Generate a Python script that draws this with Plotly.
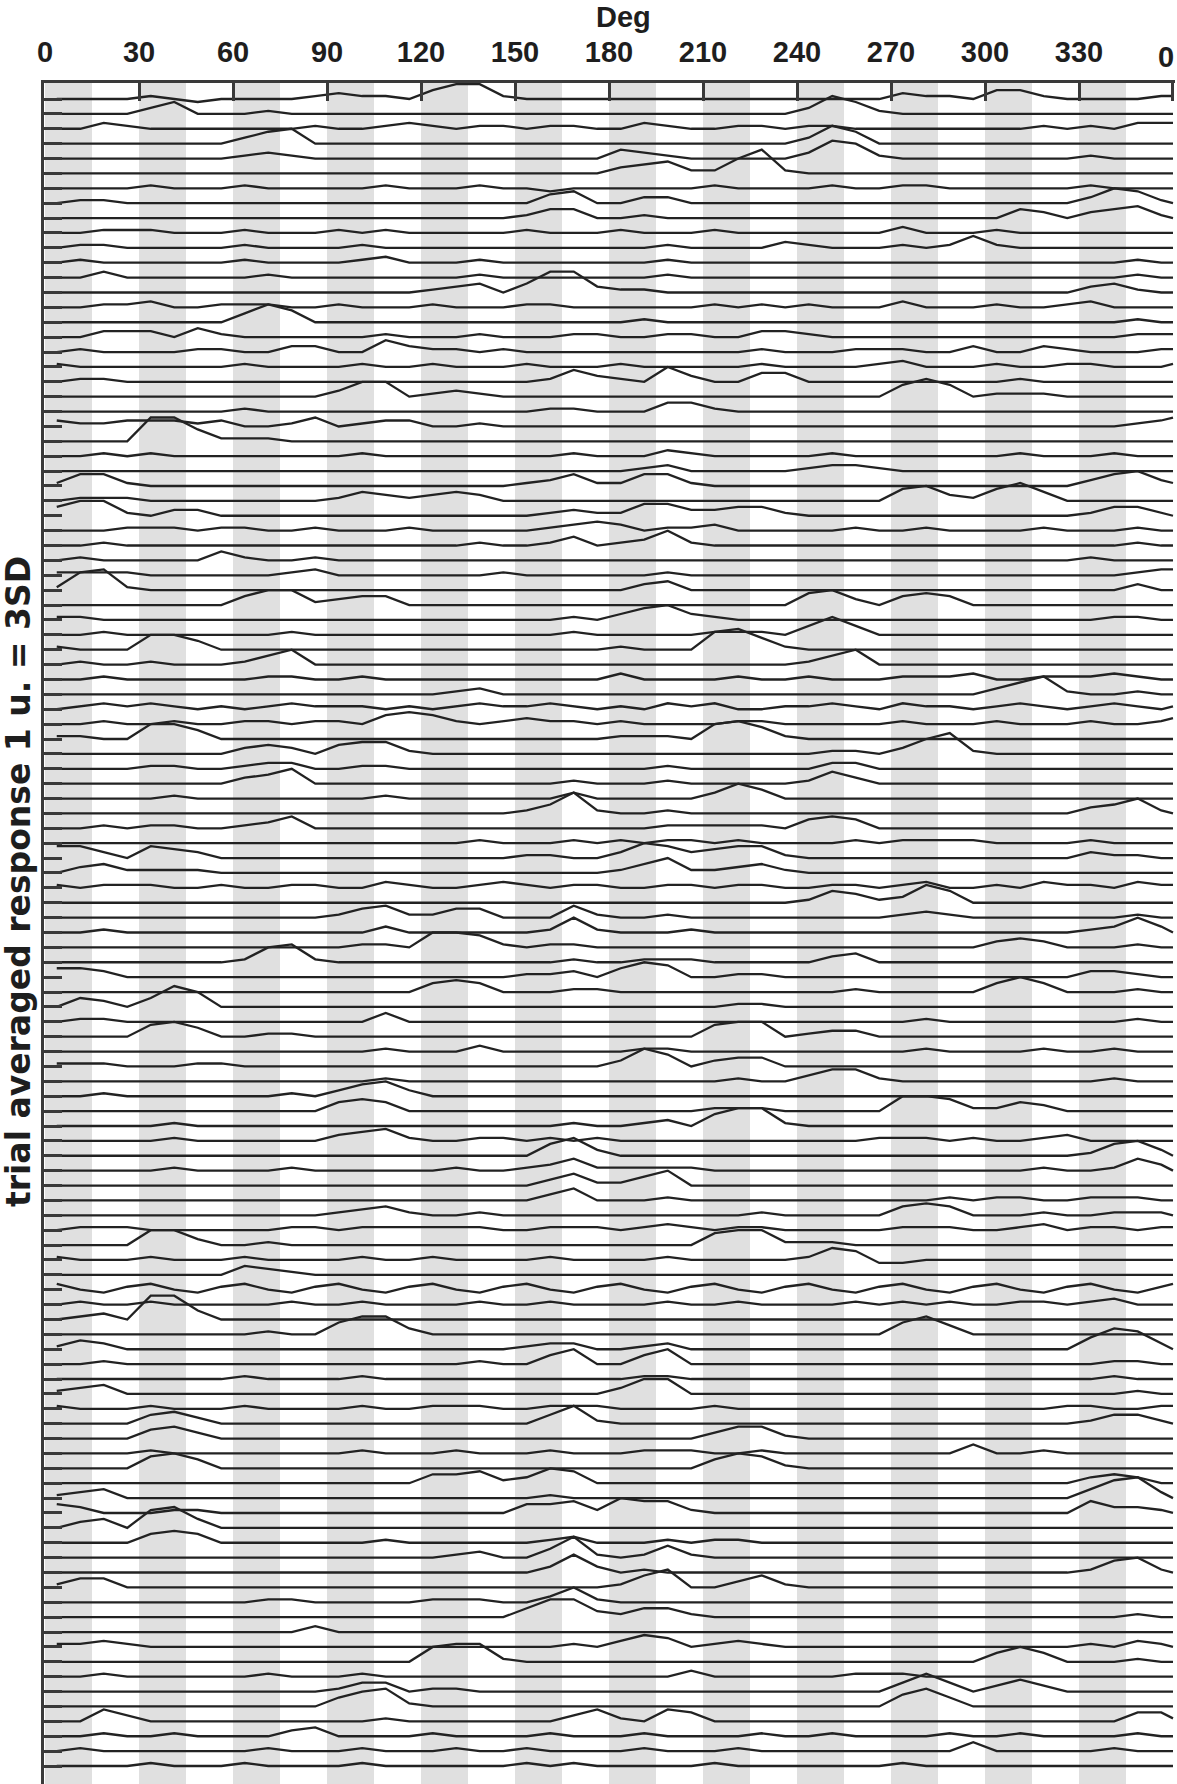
import plotly.graph_objects as go

# ---------------- data ----------------
# sampling positions (degrees) of each trace
deg = [3.75 + 7.5 * j for j in range(48)] + [360.0]

# x tick values / labels
tick_vals = [0, 30, 60, 90, 120, 150, 180, 210, 240, 270, 300, 330, 360]
tick_text = ["0", "30", "60", "90", "120", "150", "180", "210", "240", "270", "300", "330", "0"]

# stimulus-on bands (start, end) in degrees
band_starts = [0, 30, 60, 90, 120, 150, 180, 210, 240, 270, 300, 330]
band_width = 15

# each trace: 49 response levels (base-36 digit, '2' = trace baseline, 1 step = 0.2 u.)
rows = [
    "2222 3212 2223 4332 5773 2222 2222 2222 2222 4332 5532 2223 3",  # 0
    "2222 4622 2322 2222 2222 2222 2222 2222 4863 2222 2222 2222 2",  # 1
    "2243 2222 2223 2234 3233 2332 2432 2332 3322 2222 2232 3244 4",  # 2
    "2222 2222 4672 2222 2222 2222 2222 2222 4862 2222 2222 2222 2",  # 3
    "2222 2222 3432 2222 2222 2222 5432 2222 4873 2222 2222 3222 2",  # 4
    "2222 2222 2222 2222 2222 2222 4563 37a3 2222 2222 2222 2222 2",  # 5
    "2222 3222 3222 2232 2232 2122 2222 3222 2322 3322 2222 3222 2",  # 6
    "2332 2222 2222 2222 2222 2562 2442 2222 2222 2222 2222 4763 2",  # 7
    "2222 2222 2222 2222 2222 3552 2322 2222 2222 2222 2542 4563 2",  # 8
    "2233 3222 3222 3232 2222 3222 3222 3222 2222 4222 3222 2222 2",  # 9
    "2332 2222 3222 2322 2222 2222 2232 2224 3222 3236 3222 2222 2",  # 10
    "2322 2222 3222 2342 2232 2222 2232 2222 2222 2222 2222 2232 2",  # 11
    "2242 2222 2322 2222 2232 2222 2232 2222 2222 2222 2222 2232 2",  # 12
    "2222 2222 2222 2222 3452 5994 3322 2222 2222 2222 2222 4532 2",  # 13
    "2233 4223 3322 3222 3222 3322 2222 3232 3222 4222 3223 4222 2",  # 14
    "2222 2222 5862 2222 2222 2222 2322 2222 2222 2222 2222 2232 2",  # 15
    "2244 4253 2222 2232 2232 2233 2233 2244 3222 2222 2222 2233 3",  # 16
    "2322 2233 2244 2264 3323 2222 2222 2232 2233 3224 2243 2223 3",  # 17
    "3222 2222 3222 2322 3222 3222 3222 2232 2223 4222 3223 3222 3",  # 18
    "2332 2222 2222 2222 2222 2364 3274 2255 2222 2222 2322 2222 2",  # 19
    "2222 2222 2222 4772 3432 2222 2222 2222 2222 6862 3332 2222 2",  # 20
    "2222 2222 3222 2222 2222 2332 2255 3222 2222 2222 2222 2222 2",  # 21
    "4334 4434 2235 2344 2232 2222 2222 2222 2222 2222 2222 2234 5",  # 22
    "2222 aa63 3322 2222 2222 2222 2222 2222 2222 2222 2222 2222 2",  # 23
    "2232 3222 2222 2322 2222 2232 2243 2222 2322 2222 2322 2322 2",  # 24
    "2222 2222 2222 2222 2222 2222 2342 2222 3443 2222 2222 2222 2",  # 25
    "3663 2222 2222 2222 2222 3463 3663 2222 2222 2222 2222 4674 3",  # 26
    "2333 2222 2222 3543 4542 2222 2222 2222 2222 6743 6852 2222 2",  # 27
    "5773 2442 2222 2222 2222 2343 3664 4553 2222 2222 2222 3553 2",  # 28
    "2223 3323 3223 2223 2222 2345 4233 4222 2232 2322 2232 2232 2",  # 29
    "2232 2222 2222 2222 2232 2352 3473 2222 2222 2222 2222 2232 2",  # 30
    "2322 2225 3223 2222 2222 2222 2222 2222 2222 2222 2222 3222 2",  # 31
    "3333 2222 2234 2222 2223 2222 2232 2222 2222 2222 2222 2234 4",  # 32
    "3893 2222 2222 2222 2222 2222 2452 2222 2222 2222 2222 2242 2",  # 33
    "2222 2222 5773 4552 2222 2222 2222 2222 6742 5652 2222 2222 2",  # 34
    "3322 2222 2222 2222 2222 2232 4674 3222 2222 2222 2222 2332 2",  # 35
    "2232 2222 2232 2222 2222 2232 2222 3332 5852 2222 2222 2222 2",  # 36
    "3222 7752 2222 2222 2222 2222 3222 8963 2222 2222 2222 2222 2",  # 37
    "2322 3222 3572 2222 2222 2222 2222 2222 3572 2222 2222 2222 2",  # 38
    "2232 2222 2332 2322 2222 2222 4222 2322 3222 3334 2233 3432 2",  # 39
    "2222 2222 2222 2222 2342 2222 2222 2222 2222 2222 4683 2232 2",  # 40
    "2343 4323 2343 3323 2343 3432 3243 4223 3432 4332 3432 3432 3",  # 41
    "2232 2322 3323 3256 5323 4332 3222 2332 2222 3222 3222 3223 4",  # 42
    "3322 7752 2222 2222 2222 2222 3332 7863 2222 2222 2222 2222 2",  # 43
    "2222 2222 4542 5663 2222 2222 2222 2222 2332 4793 2222 2222 2",  # 44
    "2222 3322 3442 2332 2222 2222 2232 2222 2442 2222 2222 2222 2",  # 45
    "2222 2222 4572 2222 2222 2232 2232 2222 3642 2222 2222 2222 2",  # 46
    "2222 2322 2222 2232 2222 2242 2222 4752 2222 2222 2222 2222 2",  # 47
    "2222 2222 2222 2222 2222 3593 2232 2222 2222 2222 2222 4573 2",  # 48
    "2232 3322 3462 2222 2222 2222 2233 3332 5652 2222 2222 2222 2",  # 49
    "2222 2222 2222 2222 2232 2232 3233 2322 2232 3333 2222 3222 2",  # 50
    "6642 6542 2222 2222 2222 3322 4764 5663 2222 2222 2222 4332 2",  # 51
    "2453 3332 2222 2222 2222 2222 3573 3453 2222 2222 2222 2222 2",  # 52
    "3233 3223 2233 2243 2234 3233 2233 2332 2332 3422 3243 3243 3",  # 53
    "2222 2222 2222 2222 2222 2222 2222 2222 3653 4862 2222 2222 2",  # 54
    "2222 2222 2222 3563 3552 2263 2232 2222 2222 3432 2222 2232 2",  # 55
    "2232 2222 2222 2242 2222 2373 2223 2222 2222 2222 2222 3474 2",  # 56
    "2222 2222 2222 2332 7763 2332 2222 2222 2222 2222 4542 2232 2",  # 57
    "2222 2222 3783 2222 2222 2232 2333 2222 2452 2222 2222 2222 2",  # 58
    "5542 2222 2222 2222 2222 3342 5762 2332 2222 2222 2222 4432 2",  # 59
    "2222 2222 2222 2222 5652 2233 2222 2222 2232 2222 5752 2232 2",  # 60
    "2542 5972 2222 2222 2222 2222 2222 2332 2222 2222 2222 2222 2",  # 61
    "2332 2222 2222 2252 2222 2222 2222 2222 2222 2322 2222 2232 2",  # 62
    "2222 6752 2332 2222 2222 2222 2222 6772 3442 2222 2222 2222 2",  # 63
    "2222 2222 2222 2232 2242 2222 2332 2222 2222 2322 2232 2322 2",  # 64
    "3332 2233 2222 2222 2222 2222 4862 4552 2222 2222 2222 2222 2",  # 65
    "2222 2222 2222 2232 2222 2222 2222 2322 4663 2222 2222 2322 2",  # 66
    "2232 2222 2232 4674 2222 2222 2222 2222 2222 2222 2222 2222 2",  # 67
    "2222 2222 2222 5652 2222 2222 2222 3332 2222 7763 3542 2222 2",  # 68
    "2222 2322 2222 2222 2222 2232 2342 6883 2222 2222 2222 2222 2",  # 69
    "2222 2322 2222 4563 2233 2323 2222 2222 2223 3323 2234 2222 2",  # 70
    "2222 2222 2222 2222 2222 2684 2222 2222 2222 2222 2222 3674 2",  # 71
    "2222 2322 2232 2222 2322 3463 3333 2222 2222 2222 2232 2364 2",  # 72
    "2222 2222 2222 2222 2222 2463 3572 2222 2222 2222 2222 2222 2",  # 73
    "2222 2222 2222 2222 2222 2462 2232 2222 2222 2232 3322 3332 2",  # 74
    "2222 2222 2222 3453 2232 2222 2222 2232 2222 5652 2232 2333 2",  # 75
    "2333 2222 2233 2333 3332 2333 2343 2332 2222 3332 2342 3323 3",  # 76
    "2222 7742 2322 2222 2222 2222 2222 6773 3322 2222 2222 2222 2",  # 77
    "3222 3222 3222 2322 3222 2322 2232 2222 3651 1222 2222 2222 2",  # 78
    "2222 2222 5432 2222 2222 2222 2222 2222 2222 2222 2222 2222 2",  # 79
    "4213 4213 4213 4213 4213 4213 4213 4213 4213 4213 4213 4213 4",  # 80
    "2322 3222 2232 2322 2232 2322 2232 2322 2232 3232 2332 3422 2",  # 81
    "2342 aa52 2222 2222 2222 2222 2222 2222 2222 2222 2222 2222 2",  # 82
    "2222 2222 2322 6884 2222 2222 2222 2222 2222 6852 2222 2222 2",  # 83
    "3542 2222 2222 2222 2222 3442 2342 2222 2222 2222 2222 6984 2",  # 84
    "2232 2222 2222 2222 2232 2572 2572 2222 2222 2222 2222 2332 2",  # 85
    "2222 2222 3222 2322 2222 2222 2332 2222 2222 2222 2222 2322 2",  # 86
    "3452 2222 2222 2222 2222 2222 4772 2222 2222 2222 2222 2232 2",  # 87
    "3222 3222 3222 2322 3332 2333 2222 3222 2222 2222 2223 3223 3",  # 88
    "2222 5642 2222 2222 2222 2583 2222 2222 2222 2222 2222 3553 2",  # 89
    "2222 5642 2222 2222 2222 2222 2222 4663 2222 2222 2222 2222 2",  # 90
    "2222 3222 2222 2322 2322 2322 2333 2232 2222 2225 2232 2222 2",  # 91
    "2222 6752 2222 2222 2222 2222 2222 5763 2222 2222 2222 2222 2",  # 92
    "2222 2222 2222 2222 5563 4762 2222 2222 2222 2222 2222 4542 2",  # 93
    "3452 2222 2222 2222 2222 2322 2222 2222 2222 2222 2222 5894 2",  # 94
    "5422 2332 2222 2222 2222 5563 7663 2222 2222 2222 2222 6443 2",  # 95
    "2452 8952 2222 2222 2222 2222 2222 2222 2222 2222 2222 2222 2",  # 96
    "2222 5652 2222 2232 2222 2342 2232 3322 2222 2222 2222 2222 2",  # 97
    "2222 2222 2222 2222 2342 2593 2363 2222 2222 2222 2222 2222 2",  # 98
    "2222 2222 2222 2222 2222 2484 2322 2222 2222 2222 2222 3673 2",  # 99
    "3552 2222 2222 2222 2222 2222 3682 2463 2222 2222 2222 2222 2",  # 100
    "2222 2222 2332 2222 3332 2473 2222 2222 2222 2222 2222 2222 2",  # 101
    "2222 2222 2222 2222 2222 5884 3553 2222 2222 2222 2222 2232 2",  # 102
    "2222 2222 2224 2222 2222 2222 2222 2222 2222 2222 2222 2222 2",  # 103
    "3343 2222 2222 2222 2222 2232 4652 3432 2222 2222 2222 3243 2",  # 104
    "2222 2222 2222 2222 7883 2222 2222 2222 2222 2222 5752 2232 2",  # 105
    "2232 2222 2322 2322 2222 2222 2224 2222 2233 3222 2222 2222 2",  # 106
    "2222 2222 2222 3552 3322 2222 2222 2222 2222 5852 4642 2222 2",  # 107
    "2222 2222 2222 5783 2222 2222 2222 2222 2222 6852 2222 2222 2",  # 108
    "2264 2222 2222 2232 2222 2246 3265 2222 2222 2222 2222 2255 3",  # 109
    "2232 2322 2245 2222 3222 2322 2322 2232 2322 2232 2322 2232 2",  # 110
    "2322 2222 2322 2322 2322 3222 2322 2322 2222 2225 2222 2322 2",  # 111
    "2222 3222 3222 2322 2222 3232 2222 3222 2222 3222 2222 2222 2",  # 112
]

x_title = "Deg"
y_title = "trial averaged response 1 u. = 3SD"

# ---------------- figure ----------------
AX = "#3a3a3a"
LINE = "#222222"
TXT = "#1e1e1e"
STEP = 0.2  # response units per level step
n_rows = len(rows)

fig = go.Figure()

for i, r in enumerate(rows):
    s = r.replace(" ", "")
    n = min(len(s), len(deg))
    ys = [-i + (int(c, 36) - 2) * STEP for c in s[:n]]
    fig.add_trace(go.Scatter(
        x=deg[:n], y=ys, mode="lines",
        line=dict(color=LINE, width=2.3),
        hoverinfo="skip", showlegend=False,
    ))

shapes = []
for b in band_starts:
    shapes.append(dict(
        type="rect", xref="x", yref="paper",
        x0=b, x1=b + band_width, y0=0, y1=1,
        fillcolor="#e0e0e0", line=dict(width=0), layer="below",
    ))

W, H = 1177, 1784
ML, MR, MT, MB = 44, 2, 83, 0
plot_w = W - ML - MR
plot_h = H - MT - MB
tick_font = dict(family="Liberation Sans", size=29, color=TXT, weight="bold")

# the last label ("0" at 360) would overflow the page edge; draw it as a text annotation
axis_ticktext = tick_text[:-1] + [""]

fig.update_layout(
    width=W, height=H,
    margin=dict(l=ML, r=MR, t=MT, b=MB, pad=0),
    paper_bgcolor="white", plot_bgcolor="white",
    shapes=shapes,
    showlegend=False,
    xaxis=dict(
        side="top",
        range=[-0.32, 360.64],
        tickmode="array", tickvals=tick_vals, ticktext=axis_ticktext,
        ticks="inside", ticklen=18, tickwidth=3, tickcolor=AX,
        showline=True, linecolor=AX, linewidth=3,
        showgrid=False, zeroline=False,
        tickfont=tick_font,
        ticklabelstandoff=6,
        fixedrange=True,
    ),
    yaxis=dict(
        range=[-(H - MB - 99) / 14.884, (99 - MT) / 14.884],
        tickmode="array", tickvals=[-i for i in range(n_rows)],
        ticks="inside", ticklen=18, tickwidth=3, tickcolor=AX,
        showticklabels=False,
        showline=True, linecolor=AX, linewidth=3,
        showgrid=False, zeroline=False,
        fixedrange=True,
    ),
    annotations=[
        dict(text=x_title, xref="paper", yref="paper",
             x=(623 - ML) / plot_w, y=1 + (MT - 17) / plot_h,
             xanchor="center", yanchor="middle", showarrow=False,
             font=dict(family="Liberation Sans", size=29, color=TXT, weight="bold")),
        dict(text=tick_text[-1], xref="paper", yref="paper",
             x=(1166 - ML) / plot_w, y=1 + (MT - 57) / plot_h,
             xanchor="center", yanchor="middle", showarrow=False,
             font=tick_font),
        dict(text=y_title, xref="paper", yref="paper",
             x=(18 - ML) / plot_w, y=1 - (882 - MT) / plot_h,
             xanchor="center", yanchor="middle", showarrow=False, textangle=-90,
             font=dict(family="DejaVu Sans", size=33, color=TXT, weight="bold")),
    ],
)

fig.write_html("out.html")
